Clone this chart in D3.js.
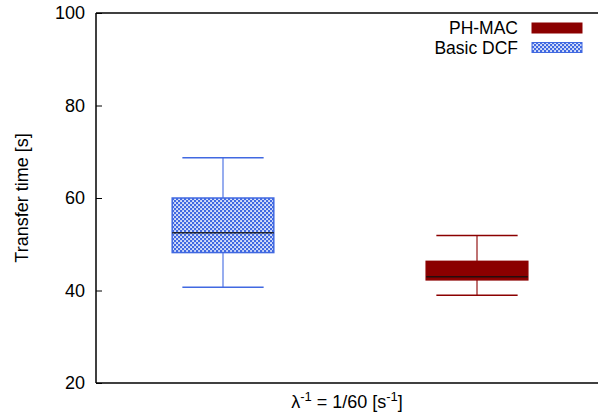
<!DOCTYPE html>
<html>
<head>
<meta charset="utf-8">
<script src="https://cdn.jsdelivr.net/npm/d3@7"></script>
<style>
  body { margin: 0; background: #fff; }
  svg { display: block; font-family: "Liberation Sans", Arial, sans-serif; }
</style>
</head>
<body>
<svg id="chart" width="598" height="414"></svg>
<script>
// ---- data ----
const series = ["Basic DCF", "PH-MAC"];
const whiskerLow  = [40.7, 39.0];
const q1          = [48.2, 42.3];
const median      = [52.5, 43.0];
const q3          = [60.0, 46.3];
const whiskerHigh = [68.7, 51.9];
const yTicks = [20, 40, 60, 80, 100];
const legendOrder = ["PH-MAC", "Basic DCF"];

// ---- layout ----
const svg = d3.select("#chart");
const pLeft = 96, pRight = 598, pTop = 13, pBottom = 383;
const blue = "#4169e1", red = "#8b0000";
const fs = 18;

const y = d3.scaleLinear().domain([20, 100]).range([pBottom, pTop]);
const x = d3.scaleLinear().domain([-0.5, 1.5]).range([pLeft, 604]);
const boxW = 0.4, capW = 0.16;

const defs = svg.append("defs");
const pat = defs.append("pattern").attr("id", "hatch")
  .attr("patternUnits", "userSpaceOnUse").attr("width", 4).attr("height", 4);
pat.append("rect").attr("width", 4).attr("height", 4).attr("fill", blue);
pat.append("rect").attr("x", 0.2).attr("y", 0.2).attr("width", 1.7).attr("height", 1.7).attr("fill", "#fff");
pat.append("rect").attr("x", 2.2).attr("y", 2.2).attr("width", 1.7).attr("height", 1.7).attr("fill", "#fff");

const fills = { "Basic DCF": "url(#hatch)", "PH-MAC": red };
const strokes = { "Basic DCF": blue, "PH-MAC": red };

// frame
svg.append("line").attr("x1", pLeft).attr("x2", pRight).attr("y1", pTop).attr("y2", pTop)
  .attr("stroke", "#000").attr("stroke-width", 1.5);
svg.append("line").attr("x1", pLeft).attr("x2", pRight).attr("y1", pBottom).attr("y2", pBottom)
  .attr("stroke", "#000").attr("stroke-width", 1.5);
svg.append("line").attr("x1", pLeft).attr("x2", pLeft).attr("y1", pTop).attr("y2", pBottom)
  .attr("stroke", "#000").attr("stroke-width", 1.5);

// y axis ticks
const yAxis = d3.axisLeft(y).tickValues(yTicks).tickSize(-6).tickPadding(11).tickFormat(d3.format("d"));
const gy = svg.append("g").attr("transform", `translate(${pLeft},0)`).call(yAxis);
gy.select(".domain").remove();
gy.selectAll("line").attr("stroke", "#000");
gy.selectAll("text").attr("font-size", fs).attr("fill", "#000")
  .attr("font-family", "Liberation Sans, Arial, sans-serif");

// boxes
series.forEach((s, i) => {
  const g = svg.append("g");
  const cx = x(i);
  g.append("line").attr("x1", cx).attr("x2", cx).attr("y1", y(whiskerHigh[i])).attr("y2", y(q3[i]))
    .attr("stroke", strokes[s]).attr("stroke-opacity", 0.55).attr("stroke-width", 2);
  g.append("line").attr("x1", cx).attr("x2", cx).attr("y1", y(q1[i])).attr("y2", y(whiskerLow[i]))
    .attr("stroke", strokes[s]).attr("stroke-opacity", 0.55).attr("stroke-width", 2);
  [whiskerHigh[i], whiskerLow[i]].forEach(v => {
    g.append("line").attr("x1", x(i - capW)).attr("x2", x(i + capW)).attr("y1", y(v)).attr("y2", y(v))
      .attr("stroke", strokes[s]).attr("stroke-width", 1.5);
  });
  g.append("rect").attr("x", x(i - boxW / 2)).attr("width", x(i + boxW / 2) - x(i - boxW / 2))
    .attr("y", y(q3[i])).attr("height", y(q1[i]) - y(q3[i]))
    .attr("fill", fills[s]).attr("stroke", strokes[s]).attr("stroke-width", 1.5);
  g.append("line").attr("x1", x(i - boxW / 2)).attr("x2", x(i + boxW / 2))
    .attr("y1", y(median[i])).attr("y2", y(median[i]))
    .attr("stroke", "#111").attr("stroke-opacity", 0.85).attr("stroke-width", 1.5);
});

// legend
legendOrder.forEach((s, k) => {
  const ly = 28 + k * 19.5;
  svg.append("text").attr("x", 518).attr("y", ly + 6).attr("text-anchor", "end")
    .attr("font-size", 17.5).attr("fill", "#000").text(s);
  svg.append("rect").attr("x", 532).attr("y", ly - 5).attr("width", 50).attr("height", 10)
    .attr("fill", fills[s]).attr("stroke", strokes[s]).attr("stroke-width", 1);
});

// axis titles
svg.append("text").attr("transform", "translate(28,198) rotate(-90)").attr("text-anchor", "middle")
  .attr("font-size", fs).attr("fill", "#000").text("Transfer time [s]");

const xt = svg.append("text").attr("x", 347).attr("y", 408).attr("text-anchor", "middle")
  .attr("font-size", fs).attr("fill", "#000");
xt.append("tspan").text("λ");
xt.append("tspan").attr("dy", -7).attr("font-size", 13).text("-1");
xt.append("tspan").attr("dy", 7).text(" = 1/60 [s");
xt.append("tspan").attr("dy", -7).attr("font-size", 13).text("-1");
xt.append("tspan").attr("dy", 7).text("]");
</script>
</body>
</html>
